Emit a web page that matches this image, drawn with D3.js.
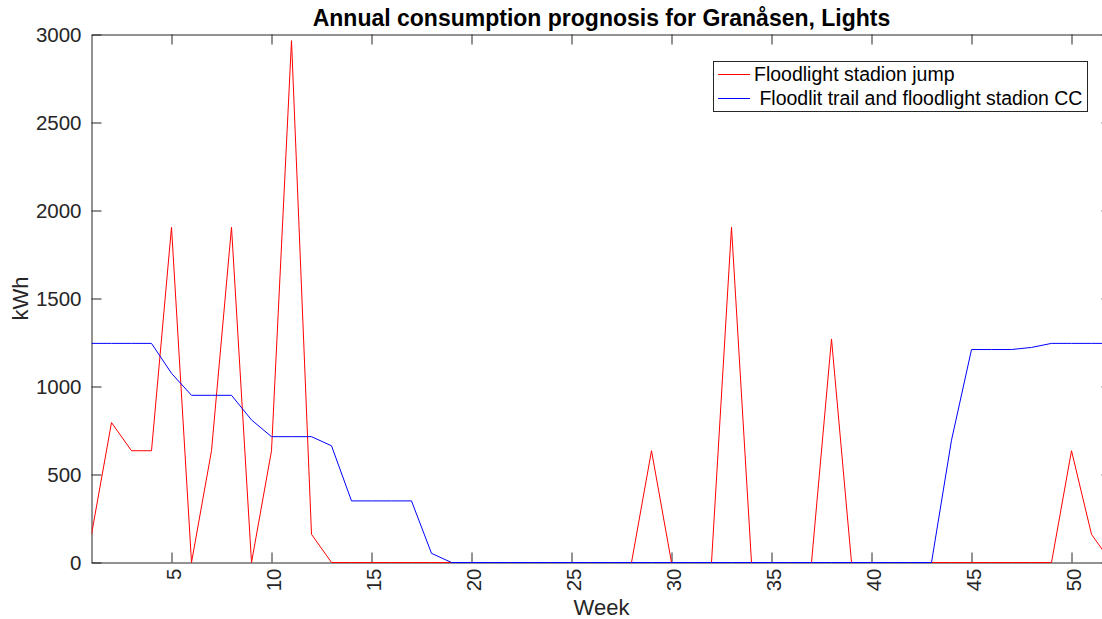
<!DOCTYPE html>
<html>
<head>
<meta charset="utf-8">
<script src="https://cdn.jsdelivr.net/npm/d3@7"></script>
<style>
  html, body { margin: 0; padding: 0; background: #fff; }
  svg { display: block; font-family: "Liberation Sans", Arial, Helvetica, sans-serif; }
</style>
</head>
<body>
<svg id="chart" width="1102" height="619"></svg>
<script>
const weeks = d3.range(1, 53);
const jumpValues = [160, 795, 635, 635, 1905, 0, 635, 1905, 0, 635,
  2965, 160, 0, 0, 0, 0, 0, 0, 0, 0,
  0, 0, 0, 0, 0, 0, 0, 0, 635, 0,
  0, 0, 1905, 0, 0, 0, 0, 1270, 0, 0,
  0, 0, 0, 0, 0, 0, 0, 0, 0, 635,
  160, 0];
const ccValues = [1245, 1245, 1245, 1245, 1075, 950, 950, 950, 810, 715,
  715, 715, 663, 350, 350, 350, 350, 52, 0, 0,
  0, 0, 0, 0, 0, 0, 0, 0, 0, 0,
  0, 0, 0, 0, 0, 0, 0, 0, 0, 0,
  0, 0, 0, 695, 1210, 1210, 1210, 1222, 1245, 1245,
  1245, 1245];
const seriesNames = ["Floodlight stadion jump", " Floodlit trail and floodlight stadion CC"];
const seriesColors = ["#ff0000", "#0000ff"];
const xTicks = [5, 10, 15, 20, 25, 30, 35, 40, 45, 50];
const yTicks = [0, 500, 1000, 1500, 2000, 2500, 3000];
const titleText = "Annual consumption prognosis for Granåsen, Lights";
const xLabel = "Week";
const yLabel = "kWh";

const svg = d3.select("#chart");
const L = 91.5, R = 1111.5, T = 34.5, B = 562.5;
const x = d3.scaleLinear().domain([1, 52]).range([L, R]);
const y = d3.scaleLinear().domain([0, 3000]).range([B, T]);
const axisColor = "#262626";

svg.append("clipPath").attr("id", "clip")
  .append("rect").attr("x", L).attr("y", T - 2).attr("width", R - L).attr("height", B - T + 4);

// axes
const gx = svg.append("g").attr("transform", `translate(0,${B})`)
  .call(d3.axisBottom(x).tickValues(xTicks).tickSizeInner(-10).tickSizeOuter(0).tickFormat(d3.format("d")));
gx.selectAll("text")
  .attr("transform", "rotate(-90)")
  .attr("text-anchor", "end")
  .attr("x", -6).attr("y", 0).attr("dy", "0.42em");
const gxTop = svg.append("g").attr("transform", `translate(0,${T})`)
  .call(d3.axisTop(x).tickValues(xTicks).tickSizeInner(-10).tickSizeOuter(0).tickFormat(""));
const gy = svg.append("g").attr("transform", `translate(${L},0)`)
  .call(d3.axisLeft(y).tickValues(yTicks).tickSizeInner(-10).tickSizeOuter(0).tickPadding(10).tickFormat(d3.format("d")));
const gyR = svg.append("g").attr("transform", `translate(${R},0)`)
  .call(d3.axisRight(y).tickValues(yTicks).tickSizeInner(-10).tickSizeOuter(0).tickFormat(""));

[gx, gxTop, gy, gyR].forEach(g => {
  g.selectAll("path.domain").attr("stroke", axisColor).attr("stroke-width", 1);
  g.selectAll("line").attr("stroke", axisColor).attr("stroke-width", 1);
  g.selectAll("text").attr("fill", axisColor).style("font-size", "20.5px")
    .style("font-family", "'Liberation Sans', Arial, Helvetica, sans-serif");
});

// lines
const line = d3.line().x((d, i) => x(weeks[i])).y(d => y(d));
const plot = svg.append("g").attr("clip-path", "url(#clip)");
[jumpValues, ccValues].forEach((vals, k) => {
  plot.append("path").datum(vals)
    .attr("fill", "none")
    .attr("stroke", seriesColors[k])
    .attr("stroke-width", 1)
    .attr("stroke-linejoin", "round")
    .attr("d", line);
});

// title
svg.append("text").attr("x", (L + R) / 2).attr("y", 26)
  .attr("text-anchor", "middle").attr("font-weight", "bold")
  .style("font-size", "23px").attr("fill", "#000").text(titleText);

// axis labels
svg.append("text").attr("x", (L + R) / 2).attr("y", 615)
  .attr("text-anchor", "middle").style("font-size", "22px").attr("fill", axisColor).text(xLabel);
svg.append("text").attr("transform", `translate(28,${(T + B) / 2}) rotate(-90)`)
  .attr("text-anchor", "middle").style("font-size", "22px").attr("fill", axisColor).text(yLabel);

// legend
const lg = svg.append("g");
lg.append("rect").attr("x", 713.5).attr("y", 61.5).attr("width", 374).attr("height", 50)
  .attr("fill", "#fff").attr("stroke", axisColor).attr("stroke-width", 1);
seriesNames.forEach((name, k) => {
  const yy = 74.5 + k * 24;
  lg.append("line").attr("x1", 718).attr("x2", 750).attr("y1", yy).attr("y2", yy)
    .attr("stroke", seriesColors[k]).attr("stroke-width", 1);
  lg.append("text").attr("x", 754).attr("y", yy).attr("dy", "0.35em")
    .style("font-size", "19.5px").style("white-space", "pre").attr("xml:space", "preserve")
    .attr("fill", "#000").text(name);
});
</script>
</body>
</html>
